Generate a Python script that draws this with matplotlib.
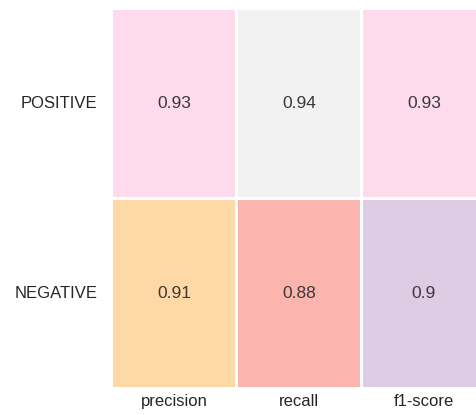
import matplotlib
matplotlib.use("Agg")
import matplotlib.pyplot as plt
import seaborn as sns
import pandas as pd

# classification report scores per class
classes = ["POSITIVE", "NEGATIVE"]
metrics = ["precision", "recall", "f1-score"]
positive_scores = [0.93, 0.94, 0.93]
negative_scores = [0.91, 0.88, 0.90]

df = pd.DataFrame([positive_scores, negative_scores], index=classes, columns=metrics)

sns.set_style("white")
plt.rcParams["font.family"] = ["Liberation Sans", "DejaVu Sans"]

fig = plt.figure(figsize=(4.77, 4.15), dpi=100)
ax = fig.add_axes([111.5 / 477, 27 / 415, 375 / 477, 380 / 415])

sns.heatmap(df, annot=True, cmap="Pastel1", cbar=False,
            linewidths=1, linecolor="white", ax=ax,
            annot_kws={"fontsize": 12.5, "color": "#3a3a3a"})

ax.tick_params(axis="both", length=0, labelsize=12, colors="#262626")
ax.tick_params(axis="y", pad=10)
ax.tick_params(axis="x", pad=4)
plt.setp(ax.get_yticklabels(), rotation=0)
plt.setp(ax.get_xticklabels(), rotation=0)

fig.savefig("out.png", dpi=100)
